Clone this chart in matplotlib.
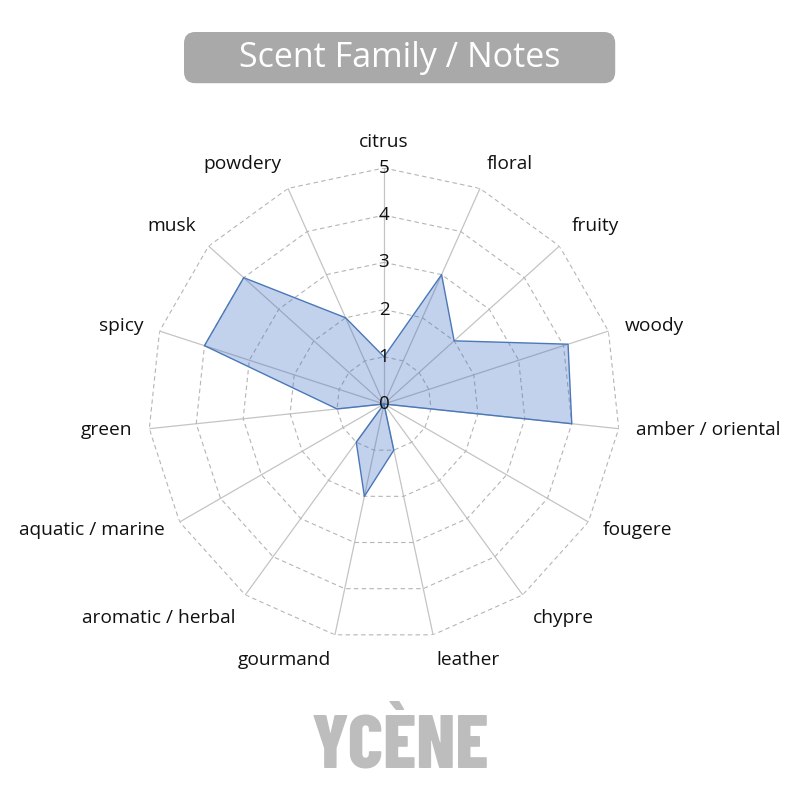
import numpy as np
import matplotlib
matplotlib.use("Agg")
import matplotlib.pyplot as plt
from matplotlib.patches import FancyBboxPatch

categories = ["citrus", "floral", "fruity", "woody", "amber / oriental", "fougere",
              "chypre", "leather", "gourmand", "aromatic / herbal", "aquatic / marine",
              "green", "spicy", "musk", "powdery"]
values = [1, 3, 2, 4.1, 4, 0, 0, 1, 2, 1, 0, 1, 4, 4, 2]
rings = [1, 2, 3, 4, 5]
tick_labels = ["0", "1", "2", "3", "4", "5"]
title = "Scent Family / Notes"
brand = "YCÈNE"

plt.rcParams['font.family'] = ['Open Sans', 'DejaVu Sans']

fig = plt.figure(figsize=(8, 8), dpi=100)
fig.patch.set_facecolor("white")

ax = fig.add_axes([0.185, 0.2, 0.59, 0.59], projection="polar")
ax.set_theta_offset(np.pi / 2)
ax.set_theta_direction(-1)
ax.set_ylim(0, 5)
ax.grid(False)
ax.spines["polar"].set_visible(False)
ax.set_xticks([])
ax.set_yticks([])
ax.patch.set_alpha(0)

n = len(categories)
angles = np.linspace(0, 2 * np.pi, n, endpoint=False)
closed = np.concatenate([angles, angles[:1]])

# spokes
for a in angles:
    ax.plot([a, a], [0, rings[-1]], color="#c4c4c4", lw=0.9, zorder=1)
# polygon rings
for r in rings:
    ax.plot(closed, [r] * (n + 1), color="#b5b5b5", lw=0.8, ls=(0, (4, 3)), zorder=1)

vals = np.array(values + values[:1], dtype=float)
ax.fill(closed, vals, color="#4472c4", alpha=0.32, zorder=2, lw=0)
ax.plot(closed, vals, color="#4a78b8", lw=1.0, zorder=3)

# radial tick labels
for i, t in enumerate(tick_labels):
    ax.text(0, i, t, ha="center", va="center", fontsize=13.5, color="#111111", zorder=5)

# category labels
for a, lab in zip(angles, categories):
    x = np.sin(a)
    y = np.cos(a)
    ha = "left" if x > 0.2 else ("right" if x < -0.2 else "center")
    va = "bottom" if y > 0.55 else ("top" if y < -0.55 else "center")
    ax.text(a, 5.36, lab, ha=ha, va=va, fontsize=13.8, color="#111111")

# title box
box = FancyBboxPatch((0.23, 0.896), 0.539, 0.064,
                     boxstyle="round,pad=0,rounding_size=0.014",
                     transform=fig.transFigure, facecolor="#a9a9a9",
                     edgecolor="none")
fig.patches.append(box)
fig.text(0.5, 0.927, title, ha="center", va="center", fontsize=24.5,
         color="white")

fig.text(0.5, 0.04, brand, ha="center", va="baseline", fontsize=54,
         fontweight=800, color="#bdbdbd",
         family=["Barlow Condensed", "Fjalla One", "DejaVu Sans"])

fig.savefig("out.png", dpi=100, facecolor="white")
